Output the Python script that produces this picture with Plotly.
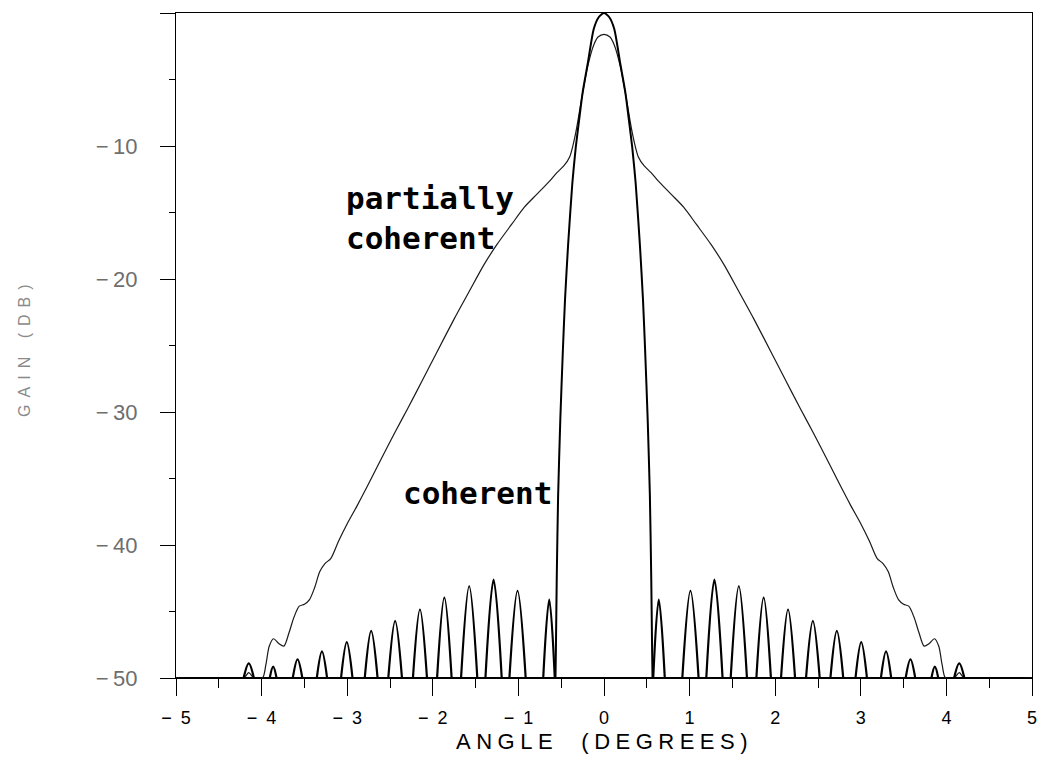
import plotly.graph_objects as go

# ---- axes -------------------------------------------------------------
x_tick_vals = [-5, -4, -3, -2, -1, 0, 1, 2, 3, 4, 5]
x_tick_text = ["\u2212\u20025", "\u2212\u20024", "\u2212\u20023", "\u2212\u20022", "\u2212\u20021",
               "0", "1", "2", "3", "4", "5"]
y_tick_vals = [-50, -40, -30, -20, -10, 0]
y_tick_text = ["\u2212\u200950", "\u2212\u200940", "\u2212\u200930", "\u2212\u200920",
               "\u2212\u200910", ""]

FLOOR_DB = -50.0

# ---- coherent pattern: main lobe, one half (symmetric about 0 deg) ----
main_lobe_angle = [0.0, 0.06, 0.12, 0.19, 0.25, 0.29, 0.33, 0.37, 0.42, 0.455,
                   0.48, 0.51, 0.536, 0.552, 0.562, 0.567]
main_lobe_db = [0.0, -0.3, -1.2, -3.8, -6.0, -8.0, -10.1, -12.8, -17.5, -21.5,
                -25.3, -30.5, -36.3, -42.5, -47.9, -50.0]

# ---- coherent pattern: sidelobes above the -50 dB floor (one half) ----
sidelobe_start = [0.575, 0.915, 1.195, 1.48, 1.78, 2.068, 2.36, 2.645, 2.938,
                  3.235, 3.524, 3.825, 4.09]
sidelobe_center = [0.64, 1.01, 1.29, 1.575, 1.865, 2.15, 2.44, 2.72, 3.005,
                   3.295, 3.58, 3.865, 4.15]
sidelobe_end = [0.71, 1.105, 1.385, 1.67, 1.95, 2.232, 2.52, 2.795, 3.072,
                3.355, 3.636, 3.905, 4.21]
sidelobe_peak_db = [-44.1, -43.45, -42.6, -43.1, -43.95, -44.85, -45.7, -46.45,
                    -47.3, -48.0, -48.6, -49.15, -48.9]

# ---- partially coherent pattern, one half ----
partial_angle = [0.0, 0.07, 0.12, 0.19, 0.26, 0.33, 0.40, 0.47, 0.55, 0.63,
                 0.78, 0.93, 1.08, 1.25, 1.40, 1.58, 1.75, 1.96, 2.12, 2.29,
                 2.44, 2.60, 2.75, 2.88, 3.00, 3.10, 3.19, 3.26, 3.32, 3.38,
                 3.44, 3.50, 3.56, 3.62, 3.68, 3.74, 3.80, 3.86, 3.91, 3.95,
                 3.99, 4.09, 4.15, 4.21, 5.0]
partial_db = [-1.6, -1.8, -2.4, -4.0, -6.4, -9.0, -10.8, -11.5, -12.0, -12.6,
              -13.6, -14.6, -15.9, -17.4, -18.9, -21.0, -23.0, -25.6, -27.6, -29.7,
              -31.5, -33.5, -35.4, -37.0, -38.4, -39.7, -41.0, -41.4, -42.0, -43.2,
              -44.1, -44.45, -44.6, -45.4, -46.6, -47.6, -47.4, -47.05, -47.6, -49.0,
              -50.0, -50.0, -49.6, -50.0, -50.0]


def mirrored(angles, values):
    """Full symmetric pattern from its positive-angle half."""
    xs = [-a for a in reversed(angles)] + list(angles)
    ys = list(reversed(values)) + list(values)
    if angles[0] == 0:
        xs.pop(len(angles))
        ys.pop(len(angles))
    return xs, ys


main_x, main_y = mirrored(main_lobe_angle, main_lobe_db)
part_x, part_y = mirrored(partial_angle, partial_db)

lobe_x, lobe_y = [], []
for s, c, e, p in zip(sidelobe_start, sidelobe_center, sidelobe_end, sidelobe_peak_db):
    for sign in (-1, 1):
        lobe_x += [sign * s, sign * c, sign * e, None]
        lobe_y += [FLOOR_DB, p, FLOOR_DB, None]

fig = go.Figure()

# -50 dB floor of the coherent pattern
fig.add_trace(go.Scatter(x=[-5, 5], y=[FLOOR_DB, FLOOR_DB], mode="lines",
                         line=dict(color="black", width=2.2), hoverinfo="skip"))
# partially coherent
fig.add_trace(go.Scatter(x=part_x, y=part_y, mode="lines",
                         line=dict(color="#1a1a1a", width=1.2, shape="spline", smoothing=0.8),
                         name="partially coherent"))
# coherent main lobe
fig.add_trace(go.Scatter(x=main_x, y=main_y, mode="lines",
                         line=dict(color="black", width=2.0, shape="spline", smoothing=0.6),
                         name="coherent"))
# coherent sidelobes
fig.add_trace(go.Scatter(x=lobe_x, y=lobe_y, mode="lines", connectgaps=False,
                         line=dict(color="black", width=2.2, shape="spline", smoothing=1.0),
                         name="coherent sidelobes"))

label_font = dict(family="DejaVu Sans Mono", size=31, color="black", weight="bold")
fig.add_annotation(x=-3.037, y=-15.39, xref="x", yref="y", text="partially<br>coherent",
                   showarrow=False, xanchor="left", yanchor="middle", align="left",
                   font=label_font)
fig.add_annotation(x=-2.369, y=-36.07, xref="x", yref="y", text="coherent",
                   showarrow=False, xanchor="left", yanchor="middle", font=label_font)

# axis titles
fig.add_annotation(x=0.5, y=-0.0962, xref="paper", yref="paper",
                   text='<span style="letter-spacing:5.5px">ANGLE\u00a0\u00a0(DEGREES)</span>',
                   showarrow=False, xanchor="center", yanchor="middle",
                   font=dict(family="Liberation Sans", size=22, color="black"))
fig.add_annotation(x=-0.1777, y=0.4977, xref="paper", yref="paper",
                   text='<span style="letter-spacing:7px">GAIN (DB)</span>',
                   textangle=-90, showarrow=False, xanchor="center", yanchor="middle",
                   font=dict(family="Liberation Sans", size=16, color="#8a8a8a"))

fig.update_xaxes(range=[-5, 5], showline=True, linecolor="black", linewidth=1.4, mirror=True,
                 ticks="outside", ticklen=17, tickwidth=1.4, tickcolor="black",
                 tickvals=x_tick_vals, ticktext=x_tick_text, ticklabelstandoff=6,
                 tickfont=dict(family="Liberation Sans", size=18, color="black"),
                 minor=dict(ticks="outside", ticklen=9, tickwidth=1.2, tickcolor="black",
                            dtick=0.5, tick0=0, showgrid=False),
                 showgrid=False, zeroline=False)
fig.update_yaxes(range=[-50, 0], showline=True, linecolor="black", linewidth=1.4, mirror=True,
                 ticks="outside", ticklen=15, tickwidth=1.4, tickcolor="black",
                 tickvals=y_tick_vals, ticktext=y_tick_text, ticklabelstandoff=18,
                 tickfont=dict(family="Liberation Sans", size=22, color="#6e6e6e"),
                 minor=dict(ticks="outside", ticklen=6, tickwidth=1.2, tickcolor="black",
                            dtick=5, tick0=0, showgrid=False),
                 showgrid=False, zeroline=False)

fig.update_layout(width=1046, height=783, showlegend=False,
                  margin=dict(l=176, r=9, t=13, b=105),
                  plot_bgcolor="white", paper_bgcolor="white")

fig.write_html("out.html")
